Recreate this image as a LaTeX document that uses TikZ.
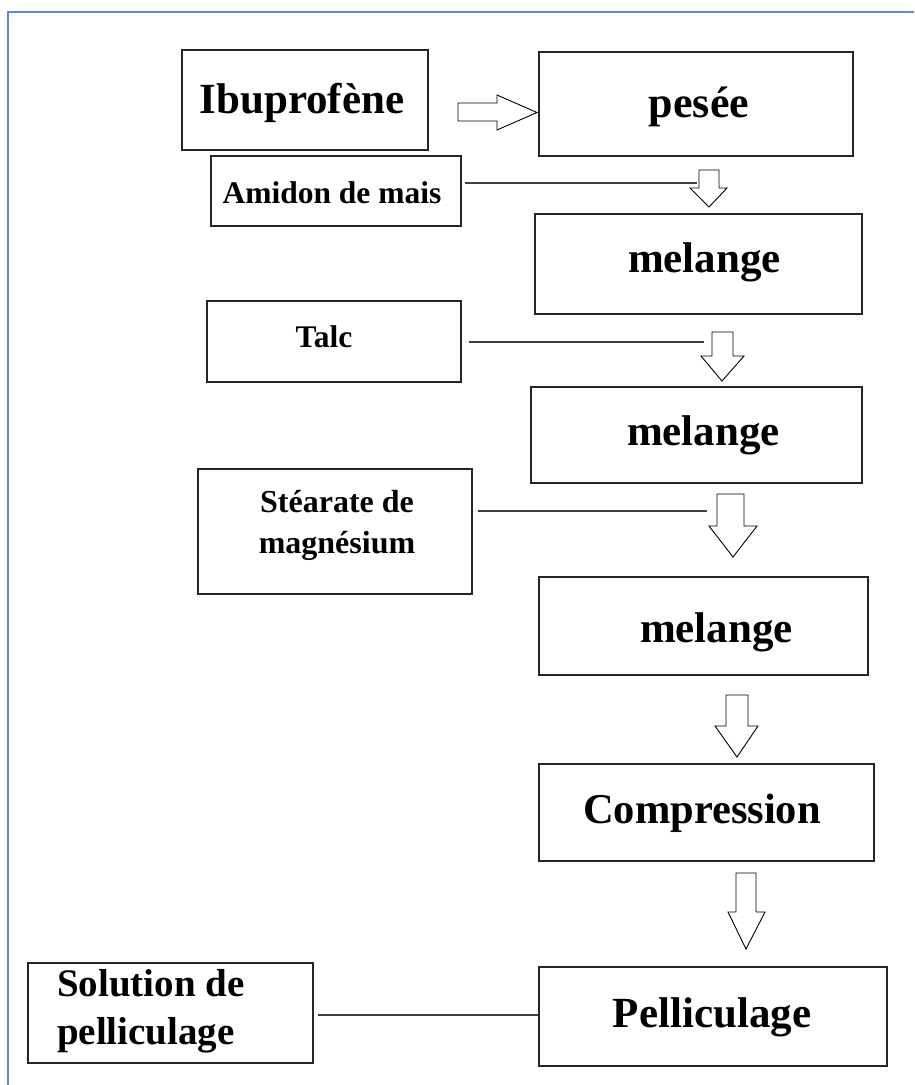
\documentclass[tikz,border=0pt]{standalone}
\usepackage{fontspec}
\setmainfont{Liberation Serif}
\definecolor{framec}{RGB}{91,139,205}
\newcommand\offtxt[3]{\raisebox{#2}[0pt][0pt]{\makebox[0pt]{\hspace*{#1}\hspace*{#1}#3}}}
\newcommand\dnarrow[8]{\draw[arr] (#1,#3) -- (#2,#3) -- (#2,#4) -- (#6,#4) -- (#7,#8) -- (#5,#4) -- (#1,#4) -- cycle;}
\tikzset{
  box/.style={draw=black!85, line width=1.3pt, rectangle, inner sep=0pt},
  big/.style={font=\fontsize{43}{50}\selectfont\bfseries},
  small/.style={font=\fontsize{31.5}{41}\selectfont\bfseries},
  arr/.style={draw=black, fill=white, line width=0.9pt, line join=miter},
  conn/.style={draw=black!75, line width=1.3pt},
}
\begin{document}
\begin{tikzpicture}[x=1pt, y=-1pt]
\useasboundingbox (0,0) rectangle (914,1085);
\draw[framec, line width=1.5pt] (8,1085) -- (8,12) -- (914,12);

% main column
\node[box, big, minimum width=246pt, minimum height=100pt] (ibu) at (305,100) {\offtxt{-3pt}{-13pt}{Ibuprofène}};
\node[box, big, font=\fontsize{44}{50}\selectfont\bfseries, minimum width=314pt, minimum height=104pt] (pesee) at (696,104) {\offtxt{3pt}{-13pt}{pesée}};
\node[box, small, minimum width=250pt, minimum height=70pt] (amidon) at (336,191) {\offtxt{-4pt}{-12pt}{Amidon de mais}};
\node[box, big, minimum width=327pt, minimum height=100pt] (mel1) at (698.5,264) {\offtxt{6pt}{-8pt}{melange}};
\node[box, small, minimum width=254pt, minimum height=81pt] (talc) at (334,341.5) {\offtxt{-10pt}{-5.5pt}{Talc}};
\node[box, big, minimum width=331pt, minimum height=96pt] (mel2) at (696.5,435) {\offtxt{7pt}{-10pt}{melange}};
\node[box, small, font=\fontsize{32}{41}\selectfont\bfseries, minimum width=274pt, minimum height=125pt] (stearate) at (335,531.5) {\offtxt{2pt}{19.5pt}{\begin{tabular}[t]{@{}c@{}}Stéarate de\\magnésium\end{tabular}}};
\node[box, big, minimum width=329pt, minimum height=98pt] (mel3) at (703.5,626) {\offtxt{13pt}{-16pt}{melange}};
\node[box, big, font=\fontsize{42.5}{50}\selectfont\bfseries, minimum width=335pt, minimum height=97pt] (comp) at (706.5,812.5) {\offtxt{-4.5pt}{-10.5pt}{Compression}};
\node[box, big, minimum width=348pt, minimum height=99pt] (pell) at (713,1016.5) {\offtxt{-1pt}{-10.5pt}{Pelliculage}};
\node[box, font=\fontsize{39}{48}\selectfont\bfseries, minimum width=285pt, minimum height=100pt] (sol) at (170.5,1013) {\raisebox{17pt}[0pt][0pt]{\rlap{\hspace*{-113.5pt}\begin{tabular}[t]{@{}l@{}}Solution de\\pelliculage\end{tabular}}}};

% hollow arrows
\draw[arr] (458,103) -- (497,103) -- (497,95) -- (537,112.5) -- (497,130) -- (497,121) -- (458,121) -- cycle;
\dnarrow{699}{719}{170}{188}{690}{727}{709}{207}
\dnarrow{712}{733}{332}{356}{701}{744}{722}{381}
\dnarrow{717}{744}{494}{526}{709}{757}{733}{557}
\dnarrow{726}{748}{695}{726}{715}{758}{737}{757}
\dnarrow{736}{756}{873}{912}{728}{765}{746}{949}

% connectors
\coordinate (e1) at (697,183);
\coordinate (e2) at (704,342);
\coordinate (e3) at (707,511);
\coordinate (e4) at (539,1015);
\draw[conn, shorten <=3pt] (amidon.east |- e1) -- (e1);
\draw[conn, shorten <=7pt] (talc.east |- e2) -- (e2);
\draw[conn, shorten <=5pt] (stearate.east |- e3) -- (e3);
\draw[conn, shorten <=4pt] (sol.east |- e4) -- (pell.west |- e4);
\end{tikzpicture}
\end{document}
